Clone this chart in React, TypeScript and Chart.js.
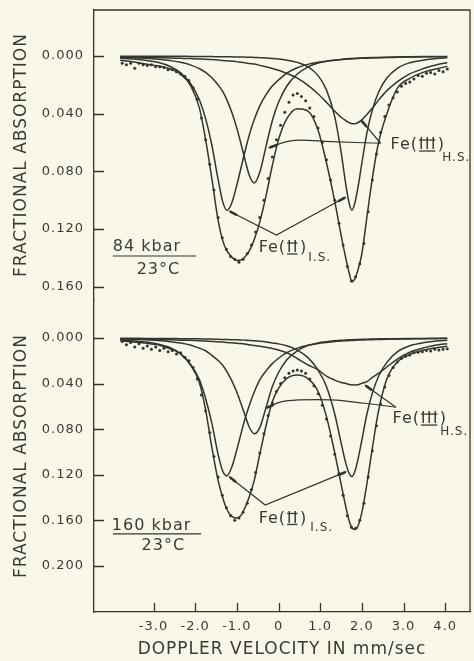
import React, { useEffect, useRef } from 'react';
import { Chart, registerables } from 'chart.js';

Chart.register(...registerables);

// ---------- data (velocity in mm/s, fractional absorption) ----------
const GRID = [-3.8, -3.5, -3.2, -2.9, -2.6, -2.35, -2.1, -1.9, -1.75, -1.6, -1.45, -1.34, -1.24, -1.12, -1.0, -0.9, -0.8, -0.7, -0.58, -0.45, -0.3, -0.15, 0.0, 0.2, 0.45, 0.7, 0.95, 1.15, 1.35, 1.5, 1.62, 1.7, 1.76, 1.83, 1.9, 2.0, 2.12, 2.25, 2.4, 2.6, 2.85, 3.15, 3.5, 3.8, 4.05];

// 84 kbar panel
const TOP_FIT = [0.003, 0.004, 0.0055, 0.0068, 0.009, 0.0125, 0.021, 0.036, 0.058, 0.085, 0.114, 0.128, 0.135, 0.1395, 0.1418, 0.1415, 0.1392, 0.135, 0.127, 0.115, 0.097, 0.076, 0.058, 0.0435, 0.0365, 0.038, 0.0515, 0.074, 0.101, 0.124, 0.141, 0.151, 0.1565, 0.1545, 0.149, 0.137, 0.112, 0.085, 0.06, 0.04, 0.0225, 0.0155, 0.011, 0.0088, 0.0072];
const TOP_FE2_LOW = [0.0015, 0.002, 0.003, 0.0044, 0.0073, 0.0117, 0.0196, 0.0303, 0.0434, 0.0619, 0.0856, 0.101, 0.107, 0.1017, 0.0894, 0.0775, 0.0655, 0.0546, 0.0439, 0.0346, 0.0268, 0.0208, 0.0166, 0.0118, 0.0081, 0.0058, 0.0043, 0.0036, 0.0029, 0.0024, 0.0022, 0.0021, 0.002, 0.0019, 0.0017, 0.0016, 0.0015, 0.0013, 0.0012, 0.0011, 0.0009, 0.0007, 0.0006, 0.0005, 0.0005];
const TOP_FE2_HIGH = [0.0001, 0.0001, 0.0002, 0.0002, 0.0002, 0.0002, 0.0003, 0.0003, 0.0004, 0.0004, 0.0005, 0.0005, 0.0005, 0.0006, 0.0007, 0.0007, 0.0008, 0.0009, 0.001, 0.0012, 0.0014, 0.0017, 0.0021, 0.0029, 0.0044, 0.0074, 0.0136, 0.0235, 0.0422, 0.0663, 0.0902, 0.1027, 0.107, 0.1022, 0.0922, 0.0742, 0.0535, 0.0375, 0.0251, 0.0153, 0.0085, 0.0047, 0.0027, 0.0018, 0.0013];
const TOP_FE3_LOW = [0.001, 0.0012, 0.0016, 0.0022, 0.0032, 0.0043, 0.0063, 0.0088, 0.0113, 0.0151, 0.0201, 0.0246, 0.0304, 0.0392, 0.0502, 0.061, 0.0724, 0.0828, 0.088, 0.0806, 0.0627, 0.0449, 0.0321, 0.0208, 0.0125, 0.0077, 0.0049, 0.0037, 0.0029, 0.0024, 0.0019, 0.0018, 0.0017, 0.0016, 0.0015, 0.0013, 0.0012, 0.0011, 0.001, 0.0008, 0.0007, 0.0005, 0.0004, 0.0004, 0.0003];
const TOP_FE3_HIGH = [0.0007, 0.0008, 0.0009, 0.0011, 0.0014, 0.0016, 0.0018, 0.002, 0.0023, 0.0025, 0.0028, 0.0031, 0.0033, 0.0036, 0.0039, 0.0044, 0.0047, 0.0052, 0.0056, 0.0065, 0.0075, 0.0086, 0.0099, 0.0121, 0.0154, 0.0202, 0.0263, 0.0321, 0.0383, 0.0425, 0.0449, 0.0463, 0.0469, 0.047, 0.0463, 0.0443, 0.0405, 0.0362, 0.0306, 0.024, 0.0179, 0.0124, 0.0085, 0.006, 0.0047];

// 160 kbar panel
const BOT_FIT = [0.0025, 0.0035, 0.0045, 0.006, 0.0095, 0.014, 0.0245, 0.039, 0.063, 0.096, 0.125, 0.14, 0.1505, 0.1565, 0.158, 0.1555, 0.1485, 0.139, 0.1245, 0.102, 0.077, 0.056, 0.0442, 0.0355, 0.0325, 0.0355, 0.047, 0.069, 0.101, 0.128, 0.149, 0.161, 0.1665, 0.168, 0.1655, 0.153, 0.128, 0.097, 0.064, 0.036, 0.021, 0.0145, 0.0105, 0.0085, 0.0072];
const BOT_FE2_LOW = [0.0017, 0.0024, 0.0035, 0.0053, 0.0086, 0.0139, 0.0236, 0.0365, 0.0531, 0.075, 0.1021, 0.1167, 0.121, 0.1131, 0.098, 0.0839, 0.0705, 0.059, 0.0472, 0.0368, 0.0289, 0.0225, 0.0178, 0.0129, 0.0089, 0.0064, 0.0048, 0.004, 0.0032, 0.0026, 0.0024, 0.0023, 0.0022, 0.0021, 0.0019, 0.0018, 0.0016, 0.0015, 0.0014, 0.0012, 0.001, 0.0009, 0.0007, 0.0006, 0.0005];
const BOT_FE2_HIGH = [0.0003, 0.0003, 0.0004, 0.0004, 0.0005, 0.0006, 0.0007, 0.0008, 0.0009, 0.001, 0.0012, 0.0013, 0.0014, 0.0015, 0.0016, 0.0018, 0.002, 0.0022, 0.0025, 0.0029, 0.0035, 0.0044, 0.0052, 0.0069, 0.0106, 0.017, 0.0282, 0.0426, 0.0669, 0.0918, 0.1107, 0.1192, 0.1216, 0.1173, 0.1076, 0.0895, 0.0669, 0.0486, 0.0336, 0.0214, 0.0122, 0.0068, 0.004, 0.0026, 0.002];
const BOT_FE3_LOW = [0.001, 0.0013, 0.0016, 0.0023, 0.0033, 0.0045, 0.0064, 0.009, 0.0112, 0.0152, 0.0198, 0.024, 0.0295, 0.0376, 0.0477, 0.0577, 0.0682, 0.0783, 0.0841, 0.0787, 0.061, 0.0429, 0.0303, 0.0192, 0.0113, 0.0067, 0.0044, 0.0033, 0.0025, 0.002, 0.0017, 0.0016, 0.0015, 0.0014, 0.0013, 0.0012, 0.0011, 0.0009, 0.0008, 0.0007, 0.0006, 0.0005, 0.0004, 0.0003, 0.0003];
const BOT_FE3_HIGH = [0.0009, 0.001, 0.0012, 0.0014, 0.0016, 0.0019, 0.0021, 0.0024, 0.0027, 0.003, 0.0033, 0.0036, 0.004, 0.0043, 0.0047, 0.0049, 0.0054, 0.006, 0.0066, 0.0073, 0.0082, 0.0092, 0.0106, 0.013, 0.018, 0.0235, 0.028, 0.0335, 0.037, 0.039, 0.04, 0.0408, 0.0411, 0.0412, 0.0411, 0.0398, 0.0383, 0.0346, 0.0311, 0.0255, 0.0185, 0.0125, 0.0085, 0.0062, 0.005];

// measured points
const DOT_V = [-3.75, -3.65, -3.55, -3.45, -3.35, -3.25, -3.15, -3.05, -2.95, -2.85, -2.75, -2.65, -2.55, -2.45, -2.35, -2.25, -2.15, -2.05, -1.95, -1.85, -1.75, -1.65, -1.55, -1.45, -1.35, -1.25, -1.15, -1.05, -0.95, -0.85, -0.75, -0.65, -0.55, -0.45, -0.35, -0.25, -0.15, -0.05, 0.05, 0.15, 0.25, 0.35, 0.45, 0.55, 0.65, 0.75, 0.85, 0.95, 1.05, 1.15, 1.25, 1.35, 1.45, 1.55, 1.65, 1.75, 1.85, 1.95, 2.05, 2.15, 2.25, 2.35, 2.45, 2.55, 2.65, 2.75, 2.85, 2.95, 3.05, 3.15, 3.25, 3.35, 3.45, 3.55, 3.65, 3.75, 3.85, 3.95, 4.05];
const TOP_DOTS = [0.005, 0.006, 0.005, 0.0085, 0.005, 0.006, 0.0065, 0.006, 0.0075, 0.0075, 0.008, 0.0095, 0.0095, 0.011, 0.0125, 0.014, 0.017, 0.022, 0.03, 0.043, 0.058, 0.075, 0.093, 0.112, 0.126, 0.134, 0.139, 0.141, 0.143, 0.141, 0.137, 0.131, 0.122, 0.112, 0.1, 0.085, 0.07, 0.058, 0.048, 0.039, 0.032, 0.027, 0.026, 0.028, 0.031, 0.036, 0.042, 0.05, 0.06, 0.072, 0.086, 0.1, 0.116, 0.131, 0.146, 0.156, 0.153, 0.144, 0.13, 0.108, 0.086, 0.068, 0.053, 0.042, 0.034, 0.029, 0.025, 0.021, 0.019, 0.018, 0.016, 0.0135, 0.014, 0.012, 0.0115, 0.0125, 0.01, 0.011, 0.009];
const BOT_DOTS = [0.003, 0.006, 0.004, 0.008, 0.005, 0.009, 0.007, 0.01, 0.008, 0.011, 0.009, 0.012, 0.011, 0.014, 0.013, 0.017, 0.02, 0.026, 0.036, 0.05, 0.064, 0.083, 0.104, 0.122, 0.138, 0.149, 0.156, 0.16, 0.158, 0.153, 0.145, 0.133, 0.118, 0.101, 0.084, 0.068, 0.057, 0.047, 0.04, 0.035, 0.031, 0.029, 0.028, 0.029, 0.031, 0.036, 0.042, 0.049, 0.059, 0.071, 0.086, 0.102, 0.119, 0.138, 0.156, 0.166, 0.167, 0.16, 0.145, 0.122, 0.099, 0.077, 0.058, 0.043, 0.033, 0.026, 0.021, 0.018, 0.016, 0.015, 0.013, 0.0125, 0.012, 0.011, 0.0115, 0.01, 0.0105, 0.01, 0.0095];

// leader lines of the labels (velocity, absorption)
const TOP_FE3_LEAD_V = [-0.24, 0.17, 0.48, 1.27, 2.45];
const TOP_FE3_LEAD_A = [0.0638, 0.0596, 0.0583, 0.0594, 0.0605];
const TOP_FE3_ARROW_V = [1.98, 2.45];
const TOP_FE3_ARROW_A = [0.0444, 0.0605];
const TOP_FE2_LEAD_V = [-1.19, -0.05, 1.62];
const TOP_FE2_LEAD_A = [0.1075, 0.1241, 0.0978];
const BOT_FE3_LEAD_V = [-0.32, 0.08, 0.48, 1.27, 2.06, 2.82];
const BOT_FE3_LEAD_A = [0.0617, 0.0559, 0.0544, 0.0544, 0.0573, 0.0608];
const BOT_FE3_ARROW_V = [2.07, 2.82];
const BOT_FE3_ARROW_A = [0.0412, 0.0608];
const BOT_FE2_LEAD_V = [-1.19, -0.32, 1.63];
const BOT_FE2_LEAD_A = [0.1216, 0.1465, 0.1173];

const X_TICKS = [-3, -2, -1, 0, 1, 2, 3, 4];
const TOP_TICKS = [0, 0.04, 0.08, 0.12, 0.16];
const BOT_TICKS = [0, 0.04, 0.08, 0.12, 0.16, 0.2];

// ---------- styling ----------
const PAPER = '#f9f7e9';
const INK = '#343430';
const TEXT = '#3a3a36';
const FONT = '"DejaVu Sans", sans-serif';

// species labels: prefix, Roman numeral (drawn with bars), suffix
const SPECIES = [
  { axis: 'yTop', pre: 'Fe(', roman: 'III', post: ')', v: 2.69, a: 0.0617 },
  { axis: 'yTop', pre: 'Fe(', roman: 'II', post: ')', v: -0.476, a: 0.1331 },
  { axis: 'yBot', pre: 'Fe(', roman: 'III', post: ')', v: 2.738, a: 0.0711 },
  { axis: 'yBot', pre: 'Fe(', roman: 'II', post: ')', v: -0.476, a: 0.1583 },
];
const LABELS = [
  { axis: 'yTop', text: 'H.S.', v: 3.93, a: 0.0705, size: 12 },
  { axis: 'yTop', text: 'I.S.', v: 0.714, a: 0.1397, size: 12 },
  { axis: 'yTop', text: '84 kbar', v: -3.976, a: 0.1325, size: 16 },
  { axis: 'yTop', text: '23°C', v: -3.405, a: 0.1484, size: 16 },
  { axis: 'yBot', text: 'H.S.', v: 3.88, a: 0.082, size: 12 },
  { axis: 'yBot', text: 'I.S.', v: 0.762, a: 0.167, size: 12 },
  { axis: 'yBot', text: '160 kbar', v: -4.0, a: 0.1649, size: 16 },
  { axis: 'yBot', text: '23°C', v: -3.286, a: 0.1825, size: 16 },
];
const RULES = [
  { axis: 'yTop', v1: -3.976, v2: -1.976, a: 0.1387 },
  { axis: 'yBot', v1: -3.976, v2: -1.857, a: 0.1719 },
];

const pts = (xs: number[], ys: number[]) => xs.map((x, i) => ({ x, y: ys[i] }));

const curve = (data: number[], axis: string) => ({
  type: 'line' as const,
  data: pts(GRID, data),
  yAxisID: axis,
  borderColor: INK,
  borderWidth: 1.5,
  pointRadius: 0,
  fill: false,
  cubicInterpolationMode: 'monotone' as const,
});
const lead = (xs: number[], ys: number[], axis: string, tension: number, tips: number[]) => ({
  type: 'line' as const,
  data: pts(xs, ys),
  yAxisID: axis,
  borderColor: INK,
  borderWidth: 1.2,
  pointRadius: 0,
  fill: false,
  tension,
  tips,
});
const dots = (ys: number[], axis: string) => ({
  type: 'line' as const,
  data: pts(DOT_V, ys),
  yAxisID: axis,
  showLine: false,
  pointRadius: 1.5,
  pointBorderWidth: 0,
  pointBackgroundColor: INK,
  borderColor: INK,
});

const framePlugin = {
  id: 'frame',
  beforeDraw(chart: any) {
    const { ctx, width, height } = chart;
    ctx.save();
    ctx.fillStyle = PAPER;
    ctx.fillRect(0, 0, width, height);
    ctx.restore();
    ctx.letterSpacing = '1px';
  },
  afterDatasetsDraw(chart: any) {
    const { ctx } = chart;
    ctx.save();
    ctx.strokeStyle = INK;
    ctx.lineWidth = 2.6;
    ctx.lineCap = 'round';
    chart.data.datasets.forEach((ds: any, i: number) => {
      if (!ds.tips) return;
      const els = chart.getDatasetMeta(i).data;
      for (const e of ds.tips) {
        const idx = e < 0 ? els.length - 1 : e;
        const p = els[idx];
        const q = els[idx === 0 ? 1 : idx - 1];
        const dx = q.x - p.x;
        const dy = q.y - p.y;
        const len = Math.hypot(dx, dy) || 1;
        ctx.beginPath();
        ctx.moveTo(p.x + (dx / len) * 2, p.y + (dy / len) * 2);
        ctx.lineTo(p.x + (dx / len) * 8, p.y + (dy / len) * 8);
        ctx.stroke();
      }
    });
    ctx.restore();
  },
  afterDraw(chart: any) {
    const { ctx, chartArea: ca, scales } = chart;
    const sx = scales.x;
    ctx.save();
    ctx.strokeStyle = INK;
    ctx.lineWidth = 1.3;
    ctx.beginPath();
    ctx.moveTo(ca.left, ca.top);
    ctx.lineTo(ca.right, ca.top);
    ctx.lineTo(ca.right, ca.bottom);
    ctx.stroke();
    ctx.beginPath();
    for (const id of ['yTop', 'yBot']) {
      const s = scales[id];
      for (const t of s.ticks) {
        const y = Math.round(s.getPixelForValue(t.value)) + 0.5;
        ctx.moveTo(ca.left, y);
        ctx.lineTo(ca.left + 10, y);
      }
    }
    for (const t of sx.ticks) {
      const x = Math.round(sx.getPixelForValue(t.value)) + 0.5;
      ctx.moveTo(x, ca.bottom);
      ctx.lineTo(x, ca.bottom - 9);
    }
    ctx.stroke();
    ctx.lineWidth = 1.2;
    ctx.beginPath();
    for (const r of RULES) {
      const s = scales[r.axis];
      const y = s.getPixelForValue(r.a);
      ctx.moveTo(sx.getPixelForValue(r.v1), y);
      ctx.lineTo(sx.getPixelForValue(r.v2), y);
    }
    ctx.stroke();

    ctx.fillStyle = TEXT;
    ctx.textAlign = 'left';
    ctx.textBaseline = 'middle';
    for (const l of LABELS) {
      const s = scales[l.axis];
      ctx.letterSpacing = '1px';
      ctx.font = `${l.size}px ${FONT}`;
      ctx.fillText(l.text, sx.getPixelForValue(l.v), s.getPixelForValue(l.a));
    }
    for (const l of SPECIES) {
      const s = scales[l.axis];
      let x = sx.getPixelForValue(l.v);
      const y = s.getPixelForValue(l.a);
      ctx.font = `16px ${FONT}`;
      ctx.letterSpacing = '1px';
      ctx.fillText(l.pre, x, y);
      x += ctx.measureText(l.pre).width + 1;
      ctx.letterSpacing = '1.5px';
      ctx.font = `15px ${FONT}`;
      ctx.fillText(l.roman, x, y + 0.5);
      const w = ctx.measureText(l.roman).width - 1.5;
      ctx.fillRect(x, y - 5.6, w, 1.3);
      ctx.fillRect(x, y + 5.4, w, 1.3);
      x += w + 2.5;
      ctx.font = `16px ${FONT}`;
      ctx.letterSpacing = '1px';
      ctx.fillText(l.post, x, y);
    }
    ctx.restore();
  },
};

const yAxis = (ticks: number[], min: number, max: number, stackWeight: number, weight: number) => ({
  type: 'linear' as const,
  position: 'left' as const,
  stack: 'panels',
  stackWeight,
  weight,
  reverse: true,
  bounds: 'data' as const,
  min,
  max,
  afterBuildTicks: (s: any) => {
    s.ticks = ticks.map((v) => ({ value: v }));
  },
  afterFit: (s: any) => {
    s.width = 94;
    s.paddingTop = 0;
    s.paddingBottom = 0;
  },
  grid: { drawOnChartArea: false, drawTicks: false },
  border: { display: true, color: INK, width: 1.3 },
  ticks: {
    autoSkip: false,
    padding: 10,
    color: TEXT,
    font: { family: FONT, size: 13 },
    callback: (v: any) => Number(v).toFixed(3),
  },
  title: {
    display: true,
    text: 'FRACTIONAL ABSORPTION',
    color: TEXT,
    font: { family: FONT, size: 17 },
    padding: { top: 11, bottom: 0 },
  },
});

export default function App() {
  const ref = useRef<HTMLCanvasElement>(null);
  useEffect(() => {
    document.body.style.margin = '0';
    document.body.style.background = PAPER;
    if (!ref.current) return;
    const chart = new Chart(ref.current, {
      type: 'line',
      data: {
        datasets: [
          curve(TOP_FE2_LOW, 'yTop'),
          curve(TOP_FE2_HIGH, 'yTop'),
          curve(TOP_FE3_LOW, 'yTop'),
          curve(TOP_FE3_HIGH, 'yTop'),
          curve(TOP_FIT, 'yTop'),
          dots(TOP_DOTS, 'yTop'),
          lead(TOP_FE3_LEAD_V, TOP_FE3_LEAD_A, 'yTop', 0.4, [0]),
          lead(TOP_FE3_ARROW_V, TOP_FE3_ARROW_A, 'yTop', 0, [0]),
          lead(TOP_FE2_LEAD_V, TOP_FE2_LEAD_A, 'yTop', 0, [0, -1]),
          curve(BOT_FE2_LOW, 'yBot'),
          curve(BOT_FE2_HIGH, 'yBot'),
          curve(BOT_FE3_LOW, 'yBot'),
          curve(BOT_FE3_HIGH, 'yBot'),
          curve(BOT_FIT, 'yBot'),
          dots(BOT_DOTS, 'yBot'),
          lead(BOT_FE3_LEAD_V, BOT_FE3_LEAD_A, 'yBot', 0.4, [0]),
          lead(BOT_FE3_ARROW_V, BOT_FE3_ARROW_A, 'yBot', 0, [0]),
          lead(BOT_FE2_LEAD_V, BOT_FE2_LEAD_A, 'yBot', 0, [0, -1]),
        ] as any,
      },
      options: {
        animation: false,
        responsive: false,
        events: [],
        layout: { padding: { top: 10, right: 1, bottom: 0, left: 0 } },
        plugins: { legend: { display: false }, tooltip: { enabled: false } },
        scales: {
          x: {
            type: 'linear',
            min: -4.4286,
            max: 4.595,
            bounds: 'data',
            afterBuildTicks: (s: any) => {
              s.ticks = X_TICKS.map((v) => ({ value: v }));
            },
            afterFit: (s: any) => {
              s.height = 49;
              s.paddingLeft = 0;
              s.paddingRight = 0;
            },
            grid: { drawOnChartArea: false, drawTicks: false },
            border: { display: true, color: INK, width: 1.3 },
            ticks: {
              autoSkip: false,
              maxRotation: 0,
              padding: 7,
              color: TEXT,
              font: { family: FONT, size: 13 },
              callback: (v: any) => (Number(v) === 0 ? '0' : Number(v).toFixed(1)),
            },
            title: {
              display: true,
              text: 'DOPPLER VELOCITY IN mm/sec',
              color: TEXT,
              font: { family: FONT, size: 17 },
              padding: { top: 0, bottom: 1 },
            },
          },
          yBot: yAxis(BOT_TICKS, -0.0333, 0.2404, 312, 0),
          yTop: yAxis(TOP_TICKS, -0.0319, 0.1692, 290, 1),
        } as any,
      },
      plugins: [framePlugin],
    });
    return () => chart.destroy();
  }, []);
  return <canvas ref={ref} width={474} height={661} style={{ display: 'block' }} />;
}
